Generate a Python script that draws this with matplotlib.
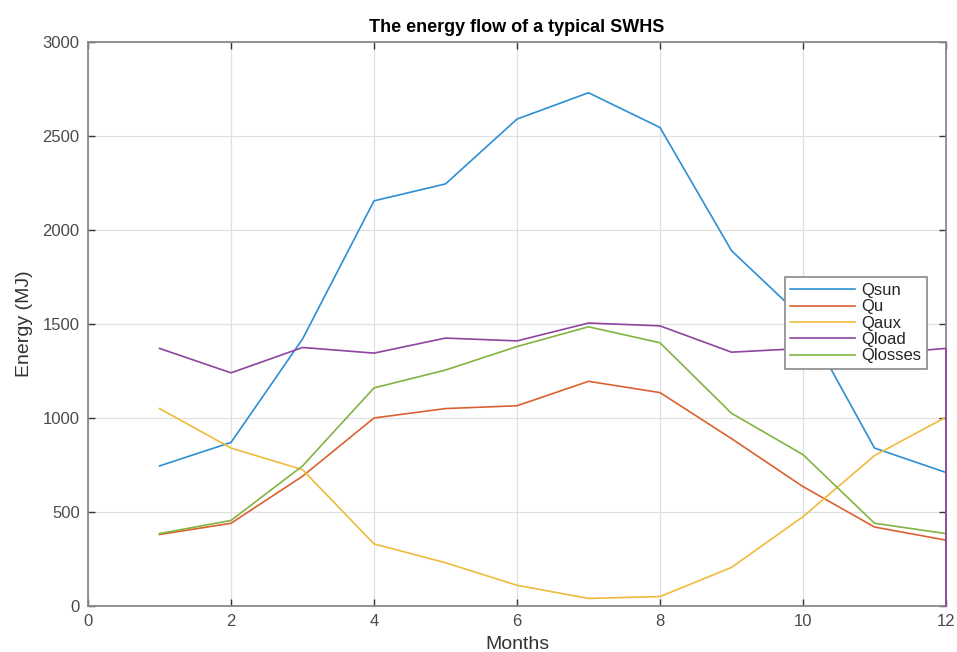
import matplotlib.pyplot as plt

plt.rcParams['font.family'] = ['Liberation Sans', 'DejaVu Sans']

months = [1, 2, 3, 4, 5, 6, 7, 8, 9, 10, 11, 12]
q_sun = [745, 870, 1420, 2155, 2245, 2590, 2730, 2545, 1890, 1530, 840, 710]
q_u = [380, 440, 690, 1000, 1050, 1065, 1195, 1135, 890, 635, 420, 350]
q_aux = [1050, 840, 725, 330, 230, 110, 40, 50, 205, 475, 800, 1005]
# load series closes back down to zero at the last month
q_load_x = months + [12]
q_load = [1370, 1240, 1375, 1345, 1425, 1410, 1505, 1490, 1350, 1370, 1340, 1370, 0]
q_losses = [385, 455, 745, 1160, 1255, 1380, 1485, 1400, 1025, 805, 440, 385]

colors = ['#2c8fd2', '#dc6130', '#efbb3c', '#8e44a0', '#82b343']
axis_col = '#4a4a4a'

fig = plt.figure(figsize=(9.57, 6.52), dpi=100)
ax = fig.add_axes([0.092, 0.0706, 0.8965, 0.865])

lw = 1.2
ax.plot(months, q_sun, color=colors[0], lw=lw, label='Qsun')
ax.plot(months, q_u, color=colors[1], lw=lw, label='Qu')
ax.plot(months, q_aux, color=colors[2], lw=lw, label='Qaux')
ax.plot(q_load_x, q_load, color=colors[3], lw=lw, label='Qload',
        zorder=3, clip_on=False)
ax.plot(months, q_losses, color=colors[4], lw=lw, label='Qlosses')

ax.set_xlim(0, 12)
ax.set_ylim(0, 3000)
ax.set_xticks(range(0, 13, 2))
ax.set_yticks(range(0, 3001, 500))
ax.grid(True, color='#e0e0e0', lw=0.9)
ax.set_axisbelow(True)
ax.tick_params(direction='in', top=True, right=True, length=5, width=1,
               colors='#333333', labelsize=12, labelcolor=axis_col, pad=6)
for s in ax.spines.values():
    s.set_color('#8a8a8a')
    s.set_linewidth(1.3)

ax.set_xlabel('Months', fontsize=14, color='#333333', labelpad=5)
ax.set_ylabel('Energy (MJ)', fontsize=14, color='#333333', labelpad=7)
ax.set_title('The energy flow of a typical SWHS', fontsize=13,
             fontweight='bold', color='black', pad=7)

leg = ax.legend(loc='upper right', bbox_to_anchor=(0.978, 0.583),
                fontsize=12, fancybox=False, framealpha=1, borderpad=0.35,
                labelspacing=0.08, handlelength=3.9, handletextpad=0.35,
                borderaxespad=0)
leg.get_frame().set_edgecolor('#8a8a8a')
leg.get_frame().set_linewidth(1.2)
for t in leg.get_texts():
    t.set_color('#262626')

fig.savefig('out.png', dpi=100)
